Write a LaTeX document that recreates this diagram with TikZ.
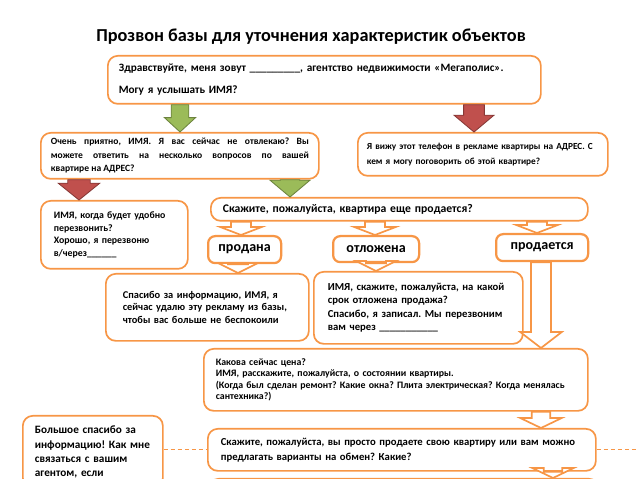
\documentclass[tikz,border=0pt]{standalone}
\usepackage{fontspec}
\setmainfont{Carlito}
\frenchspacing
\usetikzlibrary{calc}
\definecolor{cborange}{HTML}{F79646}
\definecolor{cbgreen}{HTML}{9BBB59}
\definecolor{cbred}{HTML}{C0504D}
\newcommand{\fsz}[2]{\fontsize{#1}{#2}\selectfont\bfseries}
% block arrow: style, x, from node, to node, shaft half, head half, head length
\newcommand{\fatarrow}[7]{%
  \path[#1] let \p1=(#3.south), \p2=(#4.north), \p3=(#2,0) in
    (\x3-#5,\y1) -- (\x3+#5,\y1) -- (\x3+#5,\y2+#7) -- (\x3+#6,\y2+#7)
    -- (\x3,\y2) -- (\x3-#6,\y2+#7) -- (\x3-#5,\y2+#7) -- cycle;}
\tikzset{
  box/.style={draw=cborange, line width=1.2pt, rounded corners=7pt, fill=white,
    anchor=north west, align=left, inner ysep=2pt},
  statebox/.style={draw=cborange, line width=1.6pt, rounded corners=5pt, fill=white,
    anchor=north west, align=center, inner sep=1pt, font=\fsz{10}{12}},
  greenarr/.style={fill=cbgreen, draw=cbgreen!70!black, line width=0.6pt},
  redarr/.style={fill=cbred, draw=cbred!70!black, line width=0.6pt},
  hollowarr/.style={fill=white, draw=cborange, line width=1.2pt},
  dashline/.style={draw=cborange, line width=0.6pt, dash pattern=on 3pt off 2pt},
}
\begin{document}
\begin{tikzpicture}[x=0.25mm, y=-0.25mm]
\useasboundingbox (0,0) rectangle (638,479);
\node[font=\fsz{13}{15}] (title) at (311,37) {Прозвон базы для уточнения характеристик объектов};

\node[box, font=\fsz{8}{15.6}, inner xsep=2.75mm, text width=102.75mm, minimum height=12mm] (greet) at (107,55)
  {Здравствуйте, меня зовут \_\_\_\_\_\_\_\_\_, агентство недвижимости «Мегаполис».\\ Могу я услышать ИМЯ?};
\node[box, font=\fsz{6.8}{9.6}, align=justify, inner xsep=2.5mm, text width=64.5mm, minimum height=11.5mm] (nice) at (40,132)
  {Очень приятно, ИМЯ. Я вас сейчас не отвлекаю? Вы\linebreak можете ответить на несколько вопросов по вашей\linebreak квартире на АДРЕС?};
\node[box, font=\fsz{6.6}{10.7}, inner xsep=2.25mm, text width=58mm, minimum height=10.75mm] (seead) at (357,132)
  {Я вижу этот телефон в рекламе квартиры на АДРЕС. С\\ кем я могу поговорить об этой квартире?};
\node[box, font=\fsz{7}{8.9}, inner xsep=3.25mm, text width=30.25mm, minimum height=17mm] (callback) at (40,200)
  {ИМЯ, когда будет удобно\\ перезвонить?\\ Хорошо, я перезвоню\\ в/через\_\_\_\_\_\_};
\node[box, font=\fsz{8.3}{10}, inner xsep=3mm, text width=88.25mm, minimum height=5.75mm] (ask) at (210,197)
  {Скажите, пожалуйста, квартира еще продается?};

\node[statebox, minimum width=18.25mm, minimum height=6.75mm] (sold) at (207,235) {продана};
\node[statebox, minimum width=21.5mm, minimum height=6.5mm] (held) at (332,235) {отложена};
\node[statebox, minimum width=23mm, minimum height=6.75mm] (onsale) at (495,233) {продается};

\node[box, font=\fsz{7.4}{8.7}, inner xsep=4.25mm, text width=42.25mm, minimum height=16.75mm] (thanks) at (105,273)
  {Спасибо за информацию, ИМЯ, я\\ сейчас удалю эту рекламу из базы,\\ чтобы вас больше не беспокоили};
\node[box, font=\fsz{7.6}{9.6}, inner xsep=3.5mm, text width=45.25mm, minimum height=18mm] (term) at (313,271)
  {ИМЯ, скажите, пожалуйста, на какой\\ срок отложена продажа?\\ Спасибо, я записал. Мы перезвоним\\ вам через \_\_\_\_\_\_\_\_\_\_\_};
\node[box, font=\fsz{7}{8}, inner xsep=3mm, text width=90mm, minimum height=15.5mm] (price) at (203,348)
  {Какова сейчас цена?\\ ИМЯ, расскажите, пожалуйста, о состоянии квартиры.\\ (Когда был сделан ремонт? Какие окна? Плита электрическая? Когда менялась\\ сантехника?)};
\node[box, font=\fsz{8}{10}, inner xsep=3mm, inner ysep=2.6mm, text width=29mm] (bye) at (22,415)
  {Большое спасибо за\\ информацию! Как мне\\ связаться с вашим\\ агентом, если};
\node[box, font=\fsz{7.6}{10.7}, inner xsep=3.25mm, text width=90.5mm, minimum height=10.5mm] (swap) at (207,428)
  {Скажите, пожалуйста, вы просто продаете свою квартиру или вам можно\\ предлагать варианты на обмен? Какие?};
\node[box, minimum width=97.5mm, minimum height=8mm] (next) at (208,478) {};
\coordinate (rim) at (638,449);

\fatarrow{greenarr}{180}{greet}{nice}{2.2mm}{3.9mm}{3.6mm}
\fatarrow{redarr}{474}{greet}{seead}{2.6mm}{5mm}{4.2mm}
\fatarrow{redarr}{79}{nice}{callback}{2.8mm}{5.2mm}{4.2mm}
\fatarrow{greenarr}{290}{nice}{ask}{2.4mm}{5mm}{4.2mm}
\fatarrow{hollowarr}{241}{ask}{sold}{2.5mm}{5.2mm}{2mm}
\fatarrow{hollowarr}{375}{ask}{held}{2.5mm}{5.2mm}{2mm}
\fatarrow{hollowarr}{537}{ask}{onsale}{2.5mm}{5.2mm}{2mm}
\fatarrow{hollowarr}{238}{sold}{thanks}{2.5mm}{5mm}{2.5mm}
\fatarrow{hollowarr}{376}{held}{term}{2.5mm}{5mm}{2.5mm}
\fatarrow{hollowarr}{541}{onsale}{price}{2.5mm}{5.2mm}{4mm}
\fatarrow{hollowarr}{541}{price}{swap}{2.3mm}{5.2mm}{2.5mm}
\fatarrow{hollowarr}{553}{swap}{next}{2.3mm}{5.2mm}{2.5mm}
\draw[dashline] (swap.west -| bye.east) -- (swap.west);
\draw[dashline] (swap.east) -- (swap.east -| rim);
\end{tikzpicture}
\end{document}
